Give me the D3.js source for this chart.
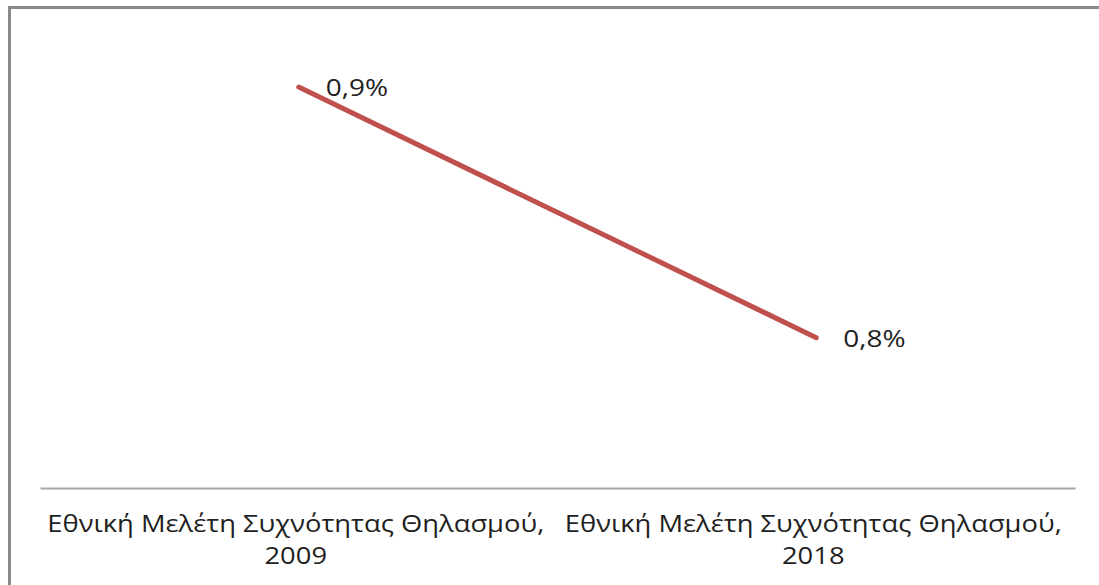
<!DOCTYPE html>
<html>
<head>
<meta charset="utf-8">
<script src="https://cdn.jsdelivr.net/npm/d3@7"></script>
<style>
  html, body { margin: 0; padding: 0; background: #fff; }
  svg { display: block; }
</style>
</head>
<body>
<svg id="chart" width="1099" height="585"></svg>
<script>
// Breastfeeding frequency survey results
const categories = ["Εθνική Μελέτη Συχνότητας Θηλασμού, 2009", "Εθνική Μελέτη Συχνότητας Θηλασμού, 2018"];
const categoryLines = [["Εθνική Μελέτη Συχνότητας Θηλασμού,", "2009"], ["Εθνική Μελέτη Συχνότητας Θηλασμού,", "2018"]];
const values = [0.9, 0.8];
const valueLabels = ["0,9%", "0,8%"];

const W = 1099, H = 585;
const svg = d3.select("#chart");
const font = "'Open Sans', 'DejaVu Sans', sans-serif";
const stretch = 1.14; // wide text rendering

// outer frame (left and top edges visible)
svg.append("rect").attr("x", 0).attr("y", 0).attr("width", W).attr("height", H).attr("fill", "#fff");
svg.append("line").attr("x1", 9.5).attr("x2", 9.5).attr("y1", 6).attr("y2", H).attr("stroke", "#8a8a8a").attr("stroke-width", 3);
svg.append("line").attr("x1", 8).attr("x2", W).attr("y1", 7.5).attr("y2", 7.5).attr("stroke", "#8a8a8a").attr("stroke-width", 3);

const plot = { left: 40, right: 1075, top: 37, bottom: 488 };

const x = d3.scaleBand().domain(categories).range([plot.left, plot.right]);
const y = d3.scaleLinear().domain([0.74, 0.92]).range([plot.bottom, plot.top]);

// category axis
const axis = svg.append("g").attr("transform", `translate(0,${plot.bottom})`)
  .call(d3.axisBottom(x).tickSize(0).tickFormat(""));
axis.select(".domain").attr("stroke", "#a6a6a6").attr("stroke-width", 2);

const labelG = svg.append("g").selectAll("g").data(categories).join("g")
  .attr("transform", d => `translate(${x(d) + x.bandwidth() / 2 - 3},532) scale(${stretch},1)`);
labelG.append("text")
  .attr("text-anchor", "middle")
  .attr("font-family", font).attr("font-size", 24).attr("fill", "#1f1f1f")
  .each(function(d, i) {
    const t = d3.select(this);
    categoryLines[i].forEach((line, j) => {
      t.append("tspan").attr("x", 0).attr("y", j * 32).text(line);
    });
  });

// series line
const pts = categories.map((c, i) => [x(c) + x.bandwidth() / 2, y(values[i])]);
svg.append("path").attr("d", d3.line()(pts))
  .attr("fill", "none").attr("stroke", "#c0504d").attr("stroke-width", 5).attr("stroke-linecap", "round");

// value labels
svg.append("g").selectAll("g").data(values).join("g")
  .attr("transform", (d, i) => `translate(${x(categories[i]) + x.bandwidth() / 2 + 27},${y(d) + 9}) scale(1.166,1)`)
  .append("text")
  .attr("font-family", font).attr("font-size", 24).attr("fill", "#1f1f1f")
  .text((d, i) => valueLabels[i]);
</script>
</body>
</html>
